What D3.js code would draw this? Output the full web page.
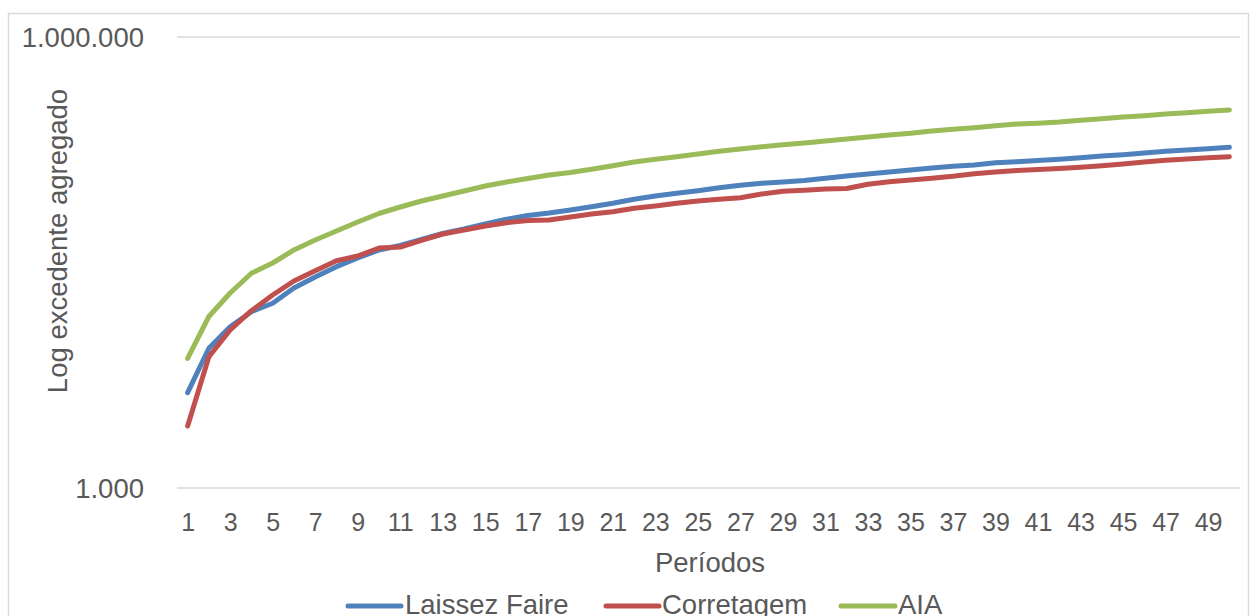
<!DOCTYPE html>
<html>
<head>
<meta charset="utf-8">
<script src="https://cdn.jsdelivr.net/npm/d3@7"></script>
<style>
  html, body { margin: 0; padding: 0; background: #fff; }
  svg { display: block; }
  text { font-family: "Liberation Sans", Arial, sans-serif; fill: #595959; }
</style>
</head>
<body>
<svg id="chart" width="1255" height="616"></svg>
<script>
const periods = d3.range(1, 51);
const xTickLabels = d3.range(1, 51, 2);
const yTickValues = [1000, 1000000];
const seriesNames = ["Laissez Faire", "Corretagem", "AIA"];

const laissezFaire = [4305, 8500, 11830, 14890, 16930, 21400, 25320, 29660, 33880, 38300,
  41030, 44980, 49310, 52830, 57030, 61290, 64980, 67510, 70680, 74320,
  78290, 83270, 87590, 91290, 95000, 99450, 103200, 106400, 108500, 111000,
  114900, 119000, 122700, 126500, 130500, 134500, 138000, 140800, 145800, 148100,
  150800, 153700, 157500, 161600, 164900, 169200, 173700, 177200, 180800, 184700];

const corretagem = [2585, 7470, 11250, 15120, 19220, 23820, 27900, 32510, 34930, 39490,
  40100, 44310, 48940, 52030, 55320, 58190, 60180, 60640, 63490, 66480,
  68870, 72540, 75140, 78290, 81140, 83270, 85340, 90310, 94130, 95570,
  97500, 98240, 104800, 109000, 111900, 114900, 118400, 123200, 126500, 129400,
  131400, 133500, 135900, 139300, 142900, 147400, 151300, 154300, 157500, 159900];

const aia = [7270, 13830, 19820, 26810, 31380, 38300, 44640, 51240, 58810, 66990,
  73980, 81140, 87590, 94560, 102100, 108500, 114500, 120800, 125500, 131800,
  139300, 147400, 153700, 159900, 166700, 173700, 179900, 186400, 192200, 197200,
  203400, 209700, 216200, 222900, 228800, 237000, 243300, 249300, 257000, 263800,
  267100, 272000, 279200, 286200, 293700, 299600, 307500, 313700, 320500, 327000];

const colors = ["#4F81BD", "#C0504D", "#9BBB59"];
const seriesData = [laissezFaire, corretagem, aia];

const svg = d3.select("#chart");
const W = 1255, H = 616;
const plot = { left: 177, right: 1240, top: 37, bottom: 488 };

// chart border
svg.append("rect")
  .attr("x", 8.5).attr("y", 13.5)
  .attr("width", 1240).attr("height", 640)
  .attr("fill", "none").attr("stroke", "#d9d9d9").attr("stroke-width", 1.5);

const x = d3.scalePoint().domain(periods).range([plot.left, plot.right]).padding(0.5);
const y = d3.scaleLog().domain([1000, 1000000]).range([plot.bottom, plot.top]);

const ptLocale = d3.formatLocale({ decimal: ",", thousands: ".", grouping: [3], currency: ["", ""] });
const fmt = ptLocale.format(",");

// gridlines
svg.append("g").selectAll("line").data(yTickValues).join("line")
  .attr("x1", plot.left).attr("x2", plot.right)
  .attr("y1", d => y(d)).attr("y2", d => y(d))
  .attr("stroke", "#d9d9d9").attr("stroke-width", 1.5);

// y axis
const yAxis = d3.axisLeft(y).tickValues(yTickValues).tickFormat(fmt).tickSize(0).tickPadding(0);
const gy = svg.append("g").attr("transform", "translate(144,0)").call(yAxis);
gy.select(".domain").remove();
gy.selectAll("text").attr("font-size", 27.5).attr("fill", "#595959")
  .attr("font-family", "Liberation Sans, Arial, sans-serif").attr("dy", "0.36em");

// x axis
const xAxis = d3.axisBottom(x).tickValues(xTickLabels).tickSize(0).tickPadding(0);
const gx = svg.append("g").attr("transform", "translate(0,531)").call(xAxis);
gx.select(".domain").remove();
gx.selectAll("text").attr("font-size", 25).attr("fill", "#595959")
  .attr("font-family", "Liberation Sans, Arial, sans-serif").attr("dy", 0).attr("y", 0);

// axis titles
svg.append("text").attr("x", 710).attr("y", 572).attr("text-anchor", "middle")
  .attr("font-size", 27.5).text("Períodos");
svg.append("text").attr("transform", "translate(67,241) rotate(-90)")
  .attr("text-anchor", "middle").attr("font-size", 27.5).text("Log excedente agregado");

// lines
const line = d3.line().x((d, i) => x(periods[i])).y(d => y(d));
svg.append("g").selectAll("path").data(seriesData).join("path")
  .attr("d", d => line(d))
  .attr("fill", "none")
  .attr("stroke", (d, i) => colors[i])
  .attr("stroke-width", 5)
  .attr("stroke-linejoin", "round")
  .attr("stroke-linecap", "round");

// legend
const legendItems = [
  { x1: 348, x2: 401, tx: 405 },
  { x1: 606, x2: 659, tx: 662 },
  { x1: 841, x2: 895, tx: 898 }
];
const lg = svg.append("g");
seriesNames.forEach((name, i) => {
  const it = legendItems[i];
  lg.append("line").attr("x1", it.x1).attr("x2", it.x2).attr("y1", 606).attr("y2", 606)
    .attr("stroke", colors[i]).attr("stroke-width", 5).attr("stroke-linecap", "round");
  lg.append("text").attr("x", it.tx).attr("y", 614).attr("font-size", 27.5).text(name);
});
</script>
</body>
</html>
